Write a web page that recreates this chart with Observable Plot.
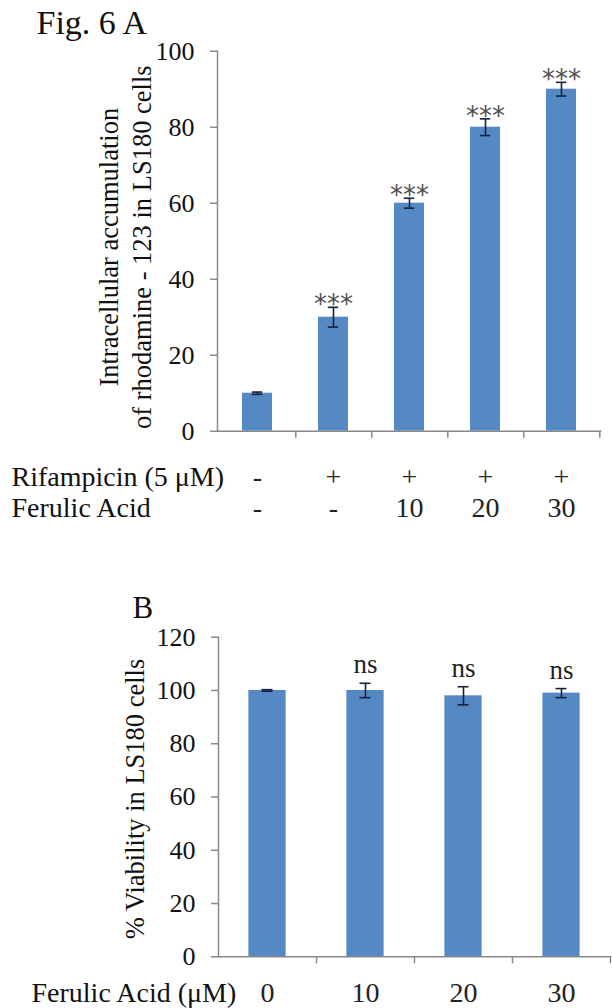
<!DOCTYPE html>
<html>
<head>
<meta charset="utf-8">
<script src="https://cdn.jsdelivr.net/npm/d3@7"></script>
<script src="https://cdn.jsdelivr.net/npm/@observablehq/plot@0.6"></script>
<style>
  html, body { margin: 0; padding: 0; background: #fff; }
  #chart svg { display: block; overflow: visible; }
</style>
</head>
<body>
<div id="chart"></div>
<script>
// ---- Panel A data ----
const groupsA = ["g1", "g2", "g3", "g4", "g5"];
const rifampicinA = ["-", "+", "+", "+", "+"];
const ferulicA = ["-", "-", "10", "20", "30"];
const accumulation = [10, 30, 60, 80, 90];
const accumulationErr = [0.3, 2.6, 1.3, 2.2, 1.8];
const sigA = ["", "***", "***", "***", "***"];
const ticksA = [0, 20, 40, 60, 80, 100];

// ---- Panel B data ----
const ferulicB = ["0", "10", "20", "30"];
const viability = [100, 100, 98, 99];
const viabilityErr = [0.3, 2.7, 3.4, 1.7];
const sigB = ["", "ns", "ns", "ns"];
const ticksB = [0, 20, 40, 60, 80, 100, 120];

const BLUE = "#5589c4";
const ERR = "#14233d";
const AXIS = "#8a8a8a";
const SERIF = "'Liberation Serif', 'Times New Roman', serif";

const dataA = groupsA.map((g, i) => ({g, rif: rifampicinA[i], fer: ferulicA[i], v: accumulation[i], e: accumulationErr[i], sig: sigA[i]}));
const dataB = ferulicB.map((g, i) => ({g, v: viability[i], e: viabilityErr[i], sig: sigB[i]}));

// ---- Panel A ----
const A = {width: 612, height: 560, top: 50.7, bottom: 129.3, left: 217, right: 12};
const stepA = (A.width - A.left - A.right) / groupsA.length;

const plotA = Plot.plot({
  width: A.width, height: A.height,
  marginTop: A.top, marginBottom: A.bottom, marginLeft: A.left, marginRight: A.right,
  style: {fontFamily: SERIF, fontSize: "26px", color: "#111", background: "#fff"},
  x: {domain: groupsA, padding: 0, axis: null},
  y: {domain: [0, 100], axis: null},
  marks: [
    Plot.barY(dataA, {x: "g", y: "v", fill: BLUE, insetLeft: stepA * 0.3, insetRight: stepA * 0.3}),
    Plot.ruleX(dataA, {x: "g", y1: d => d.v - d.e, y2: d => d.v + d.e, stroke: ERR, strokeWidth: 1.6}),
    Plot.tickY(dataA, {x: "g", y: d => d.v + d.e, stroke: ERR, strokeWidth: 1.6, insetLeft: stepA / 2 - 5.5, insetRight: stepA / 2 - 5.5}),
    Plot.tickY(dataA, {x: "g", y: d => d.v - d.e, stroke: ERR, strokeWidth: 1.6, insetLeft: stepA / 2 - 5.5, insetRight: stepA / 2 - 5.5}),
    Plot.frame({anchor: "left", stroke: AXIS, strokeWidth: 1.5}),
    Plot.frame({anchor: "bottom", stroke: AXIS, strokeWidth: 1.5}),
    Plot.axisY({ticks: ticksA, tickSize: 7, tickPadding: 16, stroke: AXIS, strokeWidth: 1.5, fontSize: 26, label: null, fill: "#111"}),
    Plot.axisX({tickSize: 7, tickFormat: () => "", dx: stepA / 2, stroke: AXIS, strokeWidth: 1.5, label: null}),
    Plot.text(dataA, {x: "g", y: d => d.v + d.e, text: "sig", lineAnchor: "bottom", dy: 6, fontFamily: "DejaVu Sans", fontSize: 26, fill: "#505050"}),
    Plot.text(dataA, {x: "g", text: "rif", frameAnchor: "bottom", dy: 46, lineAnchor: "middle", fontSize: 28, fill: "#222"}),
    Plot.text(dataA, {x: "g", text: "fer", frameAnchor: "bottom", dy: 77, lineAnchor: "middle", fontSize: 28, fill: "#222"}),
    Plot.text(["Rifampicin (5 μM)"], {frameAnchor: "bottom-left", dx: 11 - A.left, dy: 46, textAnchor: "start", lineAnchor: "middle", fontSize: 28, fill: "#111"}),
    Plot.text(["Ferulic Acid"], {frameAnchor: "bottom-left", dx: 11 - A.left, dy: 77, textAnchor: "start", lineAnchor: "middle", fontSize: 28, fill: "#111"}),
    Plot.text(["Intracellular accumulation\nof rhodamine - 123 in LS180 cells"], {frameAnchor: "left", dx: 123.5 - A.left, dy: 6, rotate: -90, textAnchor: "middle", lineAnchor: "middle", lineHeight: 1.25, fontSize: 26.5, fill: "#111"}),
    Plot.text(["Fig. 6 A"], {frameAnchor: "top-left", dx: 36 - A.left, dy: 33 - A.top, textAnchor: "start", lineAnchor: "bottom", fontSize: 34, fill: "#111"})
  ]
});

// ---- Panel B ----
const B = {width: 612, height: 448, top: 76.7, bottom: 51.7, left: 218, right: 2};
const stepB = (B.width - B.left - B.right) / ferulicB.length;

const plotB = Plot.plot({
  width: B.width, height: B.height,
  marginTop: B.top, marginBottom: B.bottom, marginLeft: B.left, marginRight: B.right,
  style: {fontFamily: SERIF, fontSize: "26px", color: "#111", background: "#fff"},
  x: {domain: ferulicB, padding: 0, axis: null},
  y: {domain: [0, 120], axis: null},
  marks: [
    Plot.barY(dataB, {x: "g", y: "v", fill: BLUE, insetLeft: stepB * 0.31, insetRight: stepB * 0.31}),
    Plot.ruleX(dataB, {x: "g", y1: d => d.v - d.e, y2: d => d.v + d.e, stroke: ERR, strokeWidth: 1.6}),
    Plot.tickY(dataB, {x: "g", y: d => d.v + d.e, stroke: ERR, strokeWidth: 1.6, insetLeft: stepB / 2 - 5.5, insetRight: stepB / 2 - 5.5}),
    Plot.tickY(dataB, {x: "g", y: d => d.v - d.e, stroke: ERR, strokeWidth: 1.6, insetLeft: stepB / 2 - 5.5, insetRight: stepB / 2 - 5.5}),
    Plot.frame({anchor: "left", stroke: AXIS, strokeWidth: 1.5}),
    Plot.frame({anchor: "bottom", stroke: AXIS, strokeWidth: 1.5}),
    Plot.axisY({ticks: ticksB, tickSize: 7, tickPadding: 16, stroke: AXIS, strokeWidth: 1.5, fontSize: 26, label: null, fill: "#111"}),
    Plot.axisX({tickSize: 7, tickFormat: () => "", dx: stepB / 2, stroke: AXIS, strokeWidth: 1.5, label: null}),
    Plot.text(dataB, {x: "g", y: d => d.v + d.e, text: "sig", lineAnchor: "bottom", dy: -10, fontSize: 27, fill: "#222"}),
    Plot.text(dataB, {x: "g", text: "g", frameAnchor: "bottom", dy: 36, lineAnchor: "middle", fontSize: 28, fill: "#222"}),
    Plot.text(["Ferulic Acid (μM)"], {frameAnchor: "bottom-left", dx: 31 - B.left, dy: 36, textAnchor: "start", lineAnchor: "middle", fontSize: 28, fill: "#111"}),
    Plot.text(["% Viability in LS180 cells"], {frameAnchor: "left", dx: 135 - B.left, dy: 2, rotate: -90, textAnchor: "middle", lineAnchor: "middle", fontSize: 26.5, fill: "#111"}),
    Plot.text(["B"], {frameAnchor: "top-left", dx: 132 - B.left, dy: 617 - 560 - B.top, textAnchor: "start", lineAnchor: "bottom", fontSize: 31, fill: "#111"})
  ]
});

const chart = document.getElementById("chart");
chart.appendChild(plotA);
chart.appendChild(plotB);
</script>
</body>
</html>
